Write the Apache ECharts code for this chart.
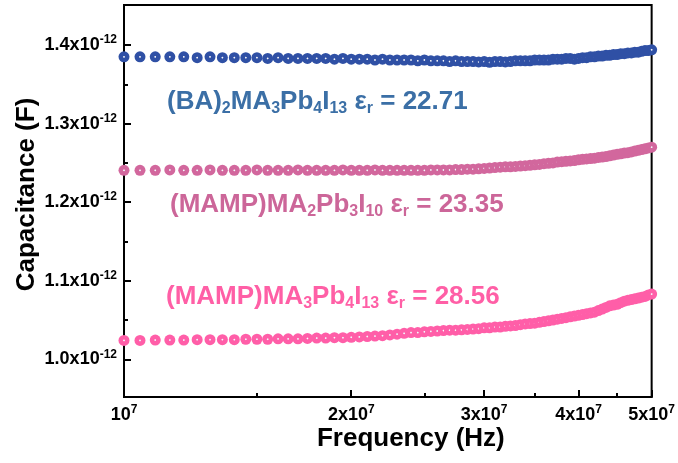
<!DOCTYPE html>
<html><head><meta charset="utf-8">
<script src="https://cdn.jsdelivr.net/npm/echarts@6/dist/echarts.min.js"></script>
<style>html,body{margin:0;padding:0;background:#fff}#c{width:678px;height:463px}</style>
</head><body><div id="c"></div>
<script>
// Frequency in MHz
const freqMHz = [10,10.5,11,11.5,12,12.5,13,13.5,14,14.5,15,15.5,16,16.5,17,17.5,18,18.5,19,19.5,20,
20.5,21,21.5,22,22.5,23,23.5,24,24.5,25,25.5,26,26.5,27,27.5,28,28.5,29,29.5,30,
30.5,31,31.5,32,32.5,33,33.5,34,34.5,35,35.5,36,36.5,37,37.5,38,38.5,39,39.5,40,
40.5,41,41.5,42,42.5,43,43.5,44,44.5,45,45.5,46,46.5,47,47.5,48,48.5,49,49.5,50];
// Capacitance in units of 1e-12 F
const capBA = [1.385,1.385,1.385,1.385,1.385,1.384,1.385,1.384,1.384,
1.384,1.384,1.383,1.384,1.383,1.383,1.383,1.383,
1.383,1.382,1.383,1.382,
1.382,1.382,1.381,1.382,1.381,1.381,1.381,1.381,
1.380,1.381,1.380,1.380,
1.380,1.379,1.380,1.379,1.379,1.379,1.3785,1.379,
1.378,1.379,1.379,1.3785,
1.379,1.380,1.380,1.380,
1.380,1.381,1.381,1.381,
1.381,1.382,1.382,1.382,
1.383,1.383,1.382,1.383,
1.384,1.384,1.385,1.385,
1.386,1.386,1.387,1.387,
1.388,1.388,1.389,1.389,
1.390,1.390,1.391,1.391,
1.392,1.393,1.393,1.394];
const capMAMP3 = [1.2405,1.2405,1.2405,1.241,1.2405,1.2405,1.241,1.2405,1.2405,
1.2405,1.241,1.2405,1.2405,1.2405,1.241,1.2405,1.2405,
1.2405,1.2405,1.241,1.2405,
1.2405,1.2405,1.241,1.2405,1.2405,1.2405,1.2405,1.2405,
1.2405,1.2405,1.241,1.241,
1.241,1.241,1.2415,1.2415,1.242,1.242,1.2425,1.243,
1.2435,1.244,1.2445,1.245,
1.245,1.2455,1.246,1.2465,
1.247,1.2475,1.248,1.249,
1.2495,1.250,1.251,1.2515,
1.252,1.2525,1.253,1.254,
1.2545,1.255,1.2555,1.256,
1.257,1.2575,1.258,1.259,
1.260,1.261,1.2615,1.2625,
1.263,1.264,1.265,1.266,
1.267,1.268,1.269,1.270];
const capMAMP4 = [1.024,1.024,1.0245,1.0245,1.0245,1.025,1.025,1.025,1.025,
1.0255,1.0255,1.0255,1.026,1.026,1.026,1.0265,1.027,
1.027,1.0275,1.0275,1.028,
1.0285,1.029,1.0295,1.030,1.031,1.032,1.033,1.034,
1.034,1.035,1.0355,1.036,
1.0365,1.037,1.037,1.0375,1.038,1.0385,1.039,1.040,
1.040,1.041,1.041,1.042,
1.0425,1.043,1.044,1.045,
1.0455,1.046,1.047,1.048,
1.049,1.050,1.051,1.052,
1.053,1.054,1.055,1.056,
1.057,1.058,1.059,1.060,
1.062,1.064,1.066,1.068,
1.069,1.070,1.072,1.074,
1.075,1.076,1.077,1.078,
1.079,1.080,1.082,1.083];

const xTickValues = [1e7,2e7,3e7,4e7,5e7];
const xTickLabels = ['10','2x10','3x10','4x10','5x10'];
const xTickExp = '7';
const xMinorTickValues = [1.5e7,2.5e7,3.5e7,4.5e7];
const yTickValues = [1.0,1.1,1.2,1.3,1.4];
const yTickLabels = ['1.0x10','1.1x10','1.2x10','1.3x10','1.4x10'];
const yTickExp = '-12';
const yMinorTickValues = [1.05,1.15,1.25,1.35];

const FONT = '"Liberation Sans", Arial, sans-serif';
const lg = v => Math.log10(v);

function dots(color) {
  return {
    type: 'radial', x: 0.5, y: 0.5, r: 0.5,
    colorStops: [
      {offset: 0, color: '#ffffff'},
      {offset: 0.08, color: '#eef0f6'},
      {offset: 0.24, color: color},
      {offset: 1, color: color}
    ]
  };
}
function mk(name, vals, color) {
  return {
    name, type: 'scatter', xAxisIndex: 0, yAxisIndex: 0,
    symbol: 'circle', symbolSize: 11,
    itemStyle: {color: dots(color), opacity: 1},
    data: freqMHz.map((f, i) => [lg(f * 1e6), vals[i]]),
    animation: false
  };
}

const chart = echarts.init(document.getElementById('c'));
const axisCommon = {
  axisLine: {show: true, lineStyle: {color: '#000', width: 2}},
  splitLine: {show: false}
};
const supRich = {
  b: {fontFamily: FONT, fontWeight: 'bold', fontSize: 18, color: '#000', lineHeight: 22, verticalAlign: 'middle'},
  s: {fontFamily: FONT, fontWeight: 'bold', fontSize: 12, color: '#000', lineHeight: 12, verticalAlign: 'top'}
};
const xmin = lg(xTickValues[0]), xmax = lg(xTickValues[xTickValues.length - 1]);

chart.setOption({
  animation: false,
  backgroundColor: '#fff',
  grid: {left: 124, right: 26, top: 5, bottom: 66, show: true, borderColor: '#000', borderWidth: 2, containLabel: false},
  xAxis: [{
    type: 'value', min: xmin, max: xmax, position: 'bottom',
    ...axisCommon,
    axisTick: {show: true, inside: true, length: 7, lineStyle: {color: '#000', width: 2}, customValues: xTickValues.map(lg)},
    axisLabel: {
      customValues: xTickValues.map(lg), margin: 7,
      formatter: v => {
        const i = xTickValues.findIndex(t => Math.abs(lg(t) - v) < 1e-6);
        return '{b|' + (i >= 0 ? xTickLabels[i] : '') + '}{s|' + xTickExp + '}';
      },
      rich: supRich
    },
    name: 'Frequency (Hz)', nameLocation: 'middle', nameGap: 29, nameMoveOverlap: false,
    nameTextStyle: {fontFamily: FONT, fontWeight: 'bold', fontSize: 26, color: '#000', padding: [0, 0, 0, 46]}
  }, {
    type: 'value', min: xmin, max: xmax, position: 'bottom',
    axisLine: {show: false}, axisLabel: {show: false}, splitLine: {show: false},
    axisTick: {show: true, inside: true, length: 4, lineStyle: {color: '#000', width: 2}, customValues: xMinorTickValues.map(lg)}
  }],
  yAxis: [{
    type: 'value', min: 0.952, max: 1.451, position: 'left',
    ...axisCommon,
    axisTick: {show: true, inside: true, length: 7, lineStyle: {color: '#000', width: 2}, customValues: yTickValues},
    axisLabel: {
      customValues: yTickValues, margin: 7,
      formatter: v => {
        const i = yTickValues.findIndex(t => Math.abs(t - v) < 1e-6);
        return '{b|' + (i >= 0 ? yTickLabels[i] : '') + '}{s|' + yTickExp + '}';
      },
      rich: supRich
    },
    name: 'Capacitance (F)', nameLocation: 'middle', nameGap: 84, nameMoveOverlap: false,
    nameTextStyle: {fontFamily: FONT, fontWeight: 'bold', fontSize: 26, color: '#000', padding: [0, 0, 0, 13]}
  }, {
    type: 'value', min: 0.952, max: 1.451, position: 'left',
    axisLine: {show: false}, axisLabel: {show: false}, splitLine: {show: false},
    axisTick: {show: true, inside: true, length: 4, lineStyle: {color: '#000', width: 2}, customValues: yMinorTickValues}
  }],
  series: [
    mk('(BA)2MA3Pb4I13', capBA, '#2f50a5'),
    mk('(MAMP)MA2Pb3I10', capMAMP3, '#d2679d'),
    mk('(MAMP)MA3Pb4I13', capMAMP4, '#ff5ea8')
  ],
  graphic: (function () {
    function ann(x, y, parts, color) {
      const rich = {
        m: {fontFamily: FONT, fontWeight: 'bold', fontSize: 26, fill: color, lineHeight: 30, verticalAlign: 'middle'},
        s: {fontFamily: FONT, fontWeight: 'bold', fontSize: 16, fill: color, lineHeight: 15, verticalAlign: 'bottom'}
      };
      const text = parts.map(p => '{' + p[0] + '|' + p[1] + '}').join('');
      return {type: 'text', x, y, z: 100, style: {text, rich, align: 'left', verticalAlign: 'middle', fill: color}};
    }
    return [
      ann(167, 102, [['m','(BA)'],['s','2'],['m','MA'],['s','3'],['m','Pb'],['s','4'],['m','I'],['s','13'],['m',' ε'],['s','r'],['m',' = 22.71']], '#3b6fa6'),
      ann(170, 205, [['m','(MAMP)MA'],['s','2'],['m','Pb'],['s','3'],['m','I'],['s','10'],['m',' ε'],['s','r'],['m',' = 23.35']], '#cc6699'),
      ann(166, 297, [['m','(MAMP)MA'],['s','3'],['m','Pb'],['s','4'],['m','I'],['s','13'],['m',' ε'],['s','r'],['m',' = 28.56']], '#ff5fa6')
    ];
  })()
});
</script></body></html>
